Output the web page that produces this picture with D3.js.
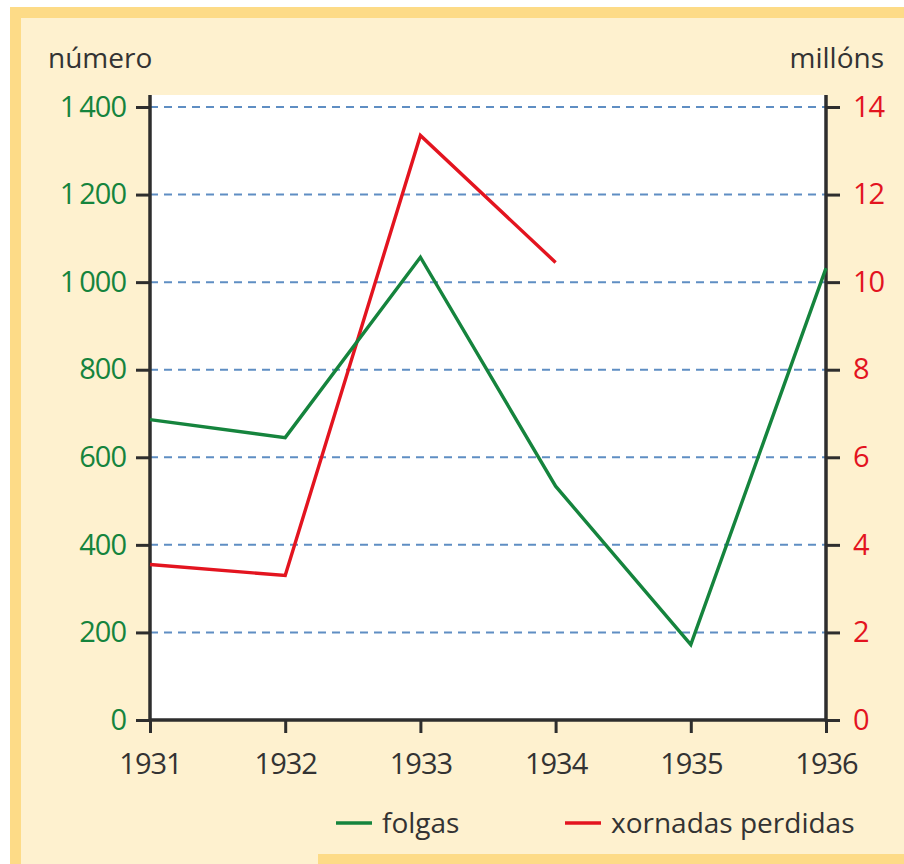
<!DOCTYPE html>
<html>
<head>
<meta charset="utf-8">
<script src="https://cdn.jsdelivr.net/npm/d3@7"></script>
<style>
  body { margin: 0; background: #fff; }
  svg { display: block; font-family: "Open Sans", sans-serif; }
</style>
</head>
<body>
<svg id="chart" width="904" height="864"></svg>
<script>
// chart data
const years = [1931, 1932, 1933, 1934, 1935, 1936];
const folgas = [686, 645, 1057, 534, 172, 1032];
const xornadas = [3.55, 3.3, 13.35, 10.45];
const leftTicks = [0, 200, 400, 600, 800, 1000, 1200, 1400];
const rightTicks = [0, 2, 4, 6, 8, 10, 12, 14];

const margin = {top: 95, right: 78, bottom: 144, left: 150};
const width = 904, height = 864;
const plotW = width - margin.left - margin.right;
const plotH = height - margin.top - margin.bottom;

const green = "#15843d", red = "#e3141f", axisCol = "#2e2e2e", textCol = "#333";

const svg = d3.select("#chart");

// background panel + border
svg.append("rect").attr("x", 10).attr("y", 7).attr("width", 894).attr("height", 857).attr("fill", "#fddb87");
svg.append("rect").attr("x", 21).attr("y", 18).attr("width", 883).attr("height", 846).attr("fill", "#fef1cf");
svg.append("rect").attr("x", 318).attr("y", 854).attr("width", 586).attr("height", 10).attr("fill", "#fddb87");

const g = svg.append("g").attr("transform", `translate(${margin.left},${margin.top})`);

g.append("rect").attr("width", plotW).attr("height", plotH).attr("fill", "#fff");

const x = d3.scaleLinear().domain([1931, 1936]).range([0, plotW]);
const yL = d3.scaleLinear().domain([0, 1400]).range([plotH, 12]);
const yR = d3.scaleLinear().domain([0, 14]).range([plotH, 12]);

// grid
g.selectAll("line.grid")
  .data(leftTicks.filter(d => d > 0))
  .enter().append("line")
  .attr("class", "grid")
  .attr("x1", 0).attr("x2", plotW)
  .attr("y1", d => yL(d)).attr("y2", d => yL(d))
  .attr("stroke", "#5f8ec3")
  .attr("stroke-width", 2)
  .attr("stroke-dasharray", "8,6");

// axes
const leftAxis = g.append("g")
  .call(d3.axisLeft(yL).tickValues(leftTicks).tickSize(14).tickPadding(10)
    .tickFormat(d => d >= 1000 ? d3.format(",")(d).replace(",", "\u2009") : d));
const rightAxis = g.append("g")
  .attr("transform", `translate(${plotW},0)`)
  .call(d3.axisRight(yR).tickValues(rightTicks).tickSize(14).tickPadding(13));
const bottomAxis = g.append("g")
  .attr("transform", `translate(0,${plotH})`)
  .call(d3.axisBottom(x).tickValues(years).tickSize(13).tickPadding(20).tickFormat(d3.format("d")));

[leftAxis, rightAxis, bottomAxis].forEach(a => {
  a.select(".domain").remove();
  a.selectAll(".tick line").attr("stroke", axisCol).attr("stroke-width", 3);
  a.selectAll("text").style("font-size", "29px").style("letter-spacing", "-1px")
    .style("font-family", "'Open Sans', sans-serif");
});
leftAxis.selectAll("text").attr("fill", green);
rightAxis.selectAll("text").attr("fill", red);
bottomAxis.selectAll("text").attr("fill", textCol);

// axis lines
g.append("line").attr("x1", 0).attr("x2", 0).attr("y1", 0).attr("y2", plotH + 1.5)
  .attr("stroke", axisCol).attr("stroke-width", 3.5);
g.append("line").attr("x1", plotW).attr("x2", plotW).attr("y1", 0).attr("y2", plotH + 1.5)
  .attr("stroke", axisCol).attr("stroke-width", 3.5);
g.append("line").attr("x1", 0).attr("x2", plotW).attr("y1", plotH).attr("y2", plotH)
  .attr("stroke", axisCol).attr("stroke-width", 3.5);

// series lines
const lineL = d3.line().x((d, i) => x(years[i])).y(d => yL(d));
const lineR = d3.line().x((d, i) => x(years[i])).y(d => yR(d));

g.append("path").datum(xornadas).attr("d", lineR)
  .attr("fill", "none").attr("stroke", red).attr("stroke-width", 3.4);
g.append("path").datum(folgas).attr("d", lineL)
  .attr("fill", "none").attr("stroke", green).attr("stroke-width", 3.4);

// axis titles
svg.append("text").attr("x", 48).attr("y", 68).text("número")
  .attr("fill", textCol).style("font-size", "28px");
svg.append("text").attr("x", 884).attr("y", 68).attr("text-anchor", "end").text("millóns")
  .attr("fill", textCol).style("font-size", "28px");

// legend
const legend = [
  {name: "folgas", color: green, x: 336},
  {name: "xornadas perdidas", color: red, x: 565}
];
const lg = svg.selectAll("g.legend").data(legend).enter().append("g")
  .attr("transform", d => `translate(${d.x},823)`);
lg.append("line").attr("x1", 0).attr("x2", 36).attr("stroke", d => d.color).attr("stroke-width", 3.5);
lg.append("text").attr("x", 46).attr("y", 10).text(d => d.name)
  .attr("fill", textCol).style("font-size", "28px");
</script>
</body>
</html>
